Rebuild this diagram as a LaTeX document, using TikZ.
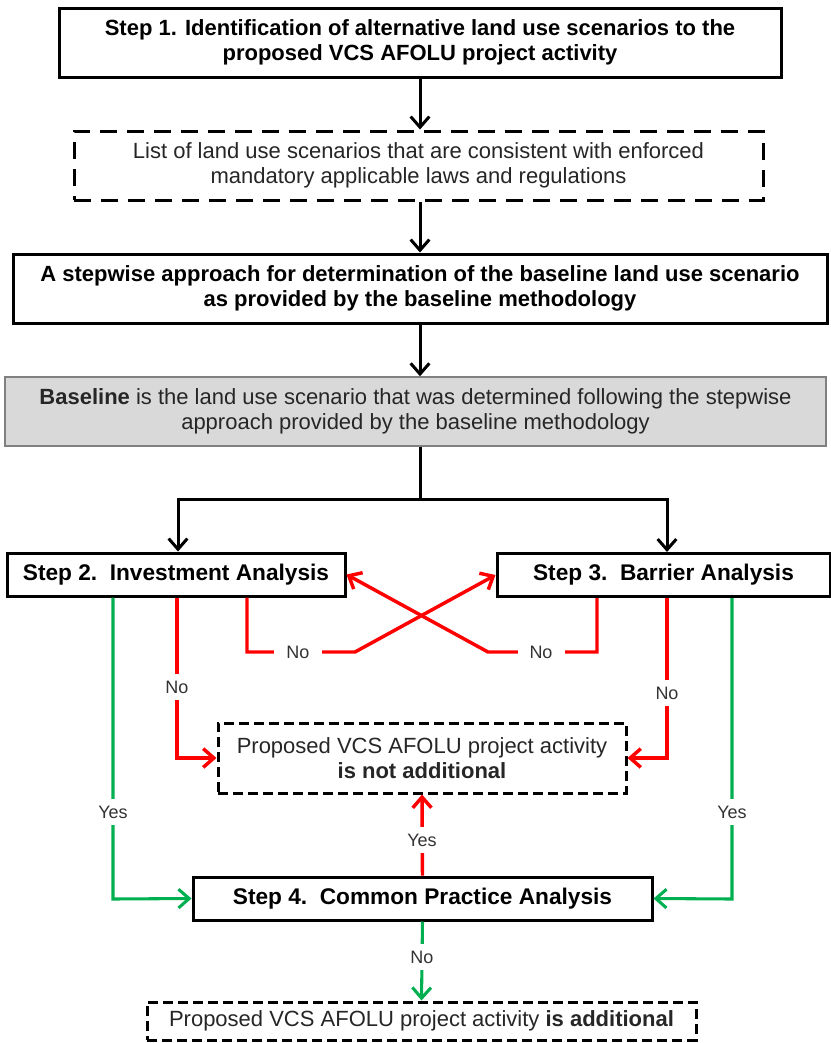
\documentclass[tikz,border=0pt]{standalone}
\usepackage{fontspec}
\setmainfont{Liberation Sans}
\usetikzlibrary{arrows.meta}
\definecolor{ored}{RGB}{255,0,0}
\definecolor{ogreen}{RGB}{0,176,80}
\definecolor{ogray}{RGB}{217,217,217}
\begin{document}
\begin{tikzpicture}[x=0.75pt,y=-0.75pt,
  box/.style={draw, line width=2.25pt, inner sep=0pt, align=center, fill=white,
    font=\bfseries\fontsize{16.5}{18.75}\selectfont},
  stepbox/.style={box, minimum height=32.25pt, font=\bfseries\fontsize{17}{20}\selectfont},
  dbox/.style={box, dash pattern=on 7.5pt off 3.75pt, text=black!85,
    font=\fontsize{16.5}{18.75}\selectfont},
  lab/.style={fill=white, inner xsep=9pt, inner ysep=5pt, text=black!80,
    font=\fontsize{13.5}{15}\selectfont},
  tip/.style={-{Straight Barb[length=8pt,width=14pt]}},
  blk/.style={tip, line width=2.25pt, line join=miter},
  redar/.style={tip, ored, line width=2.6pt, line join=miter},
  grnar/.style={tip, ogreen, line width=2.3pt, line join=miter}
]
\useasboundingbox (0,0) rectangle (831,1043);

% boxes
\node[box, minimum width=541.5pt, minimum height=51.75pt] (s1) at (420,42.5)
  {Step 1. Identification of alternative land use scenarios to the\\proposed VCS AFOLU project activity};
\node[dbox, dash pattern=on 12.75pt off 7.5pt, minimum width=516.75pt, minimum height=51.75pt] (list) at (418.5,165.5)
  {List of land use scenarios that are consistent with enforced\\mandatory applicable laws and regulations};
\node[box, minimum width=610.5pt, minimum height=51.75pt] (appr) at (420,288.5)
  {A stepwise approach for determination of the baseline land use scenario\\as provided by the baseline methodology};
\node[draw=black!50, fill=ogray, line width=1.1pt, inner sep=0pt, align=center, text=black!85,
  font=\fontsize{16.5}{18.75}\selectfont, minimum width=615.75pt, minimum height=51.75pt] (base) at (415.5,411.5)
  {\textbf{Baseline} is the land use scenario that was determined following the stepwise\\approach provided by the baseline methodology};
\node[stepbox, minimum width=253.5pt] (s2) at (176,574.5) {Step 2.~~Investment Analysis};
\node[stepbox, minimum width=249.75pt] (s3) at (663.5,575) {Step 3.~~Barrier Analysis};
\node[dbox, minimum width=306pt, minimum height=52.5pt] (nadd) at (422,758)
  {Proposed VCS AFOLU project activity\\\textbf{is not additional}};
\node[stepbox, minimum width=344.25pt] (s4) at (422.5,898.5) {Step 4.~~Common Practice Analysis};
\node[dbox, minimum width=411.75pt, minimum height=28.5pt] (add) at (421.5,1021)
  {Proposed VCS AFOLU project activity \textbf{is additional}};

% black connectors
\coordinate (jl) at (178,499);
\coordinate (jr) at (667,499);
\draw[blk] (s1.south) -- (s1.south|-list.north);
\draw[blk] (s1.south|-list.south) -- (s1.south|-appr.north);
\draw[blk] (appr.south) -- (appr.south|-base.north);
\draw[blk] (appr.south|-base.south) |- (jl) -- (jl|-s2.north);
\draw[blk] (appr.south|-base.south) |- (jr) -- (jr|-s3.north);

% red connectors
\coordinate (r1) at (177,758);
\coordinate (r2a) at (247,652);
\coordinate (r2b) at (355,652);
\coordinate (r3a) at (597,652);
\coordinate (r3b) at (488,652);
\coordinate (r4) at (667,758);
\draw[redar] (r1|-s2.south) -- (r1) -- (nadd.west);
\draw[redar] (r2a|-s2.south) -- (r2a) -- (r2b) -- (s3.west);
\draw[redar] (r3a|-s3.south) -- (r3a) -- (r3b) -- (s2.east);
\draw[redar] (r4|-s3.south) -- (r4) -- (nadd.east);
\draw[redar] (s4.north) -- (nadd.south);

% green connectors
\coordinate (g1) at (113,899);
\coordinate (g2) at (732,899);
\draw[grnar] (g1|-s2.south) -- (g1) -- (s4.west);
\draw[grnar] (g2|-s3.south) -- (g2) -- (s4.east);
\draw[grnar] (s4.south) -- (add.north);

% labels
\node[lab] (l1) at (177,687) {No};
\node[lab] (l2) at (298,652) {No};
\node[lab] (l3) at (541,652) {No};
\node[lab] (l4) at (667,693) {No};
\node[lab] (l5) at (422,840) {Yes};
\node[lab] (l6) at (113,812) {Yes};
\node[lab] (l7) at (732,812) {Yes};
\node[lab] (l8) at (422,957) {No};
\end{tikzpicture}
\end{document}
